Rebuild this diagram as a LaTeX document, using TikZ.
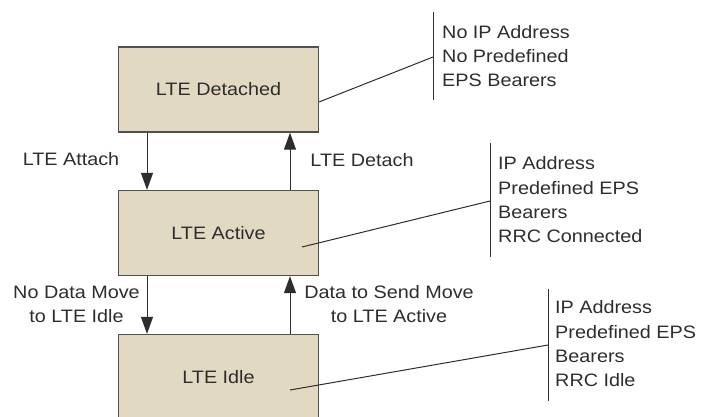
\documentclass[tikz,border=0pt]{standalone}
\usepackage{fontspec}
\setmainfont{Liberation Sans}[FakeStretch=1.1]
\usetikzlibrary{arrows.meta}
\definecolor{statefill}{RGB}{226,217,195}
\definecolor{ink}{RGB}{45,45,45}
\definecolor{edge}{RGB}{80,80,80}
\tikzset{
  state/.style={draw=edge, line width=1.3pt, fill=statefill, minimum width=200pt,
    minimum height=85pt, inner sep=0pt, text=ink, font=\fontsize{18}{24}\selectfont},
  trans/.style={draw=ink, line width=1pt, -{Triangle[length=17pt,width=12pt]}},
  lbl/.style={text=ink, font=\fontsize{18}{24}\selectfont, align=center, inner sep=0pt},
  notetext/.style={text=ink, font=\fontsize{18}{24.3}\selectfont, align=left,
    anchor=west, inner sep=0pt},
  bracket/.style={draw=ink, line width=1pt},
  leader/.style={draw=ink, line width=1pt}
}
\begin{document}
\begin{tikzpicture}[x=1pt,y=-1pt]
\useasboundingbox (0,0) rectangle (707,416);
\clip (0,0) rectangle (707,416);

% states
\node[state] (detached) at (218.5,89.5) {LTE Detached};
\node[state] (active) at (218.5,233) {LTE Active};
\node[state] (idle) at (218.5,377) {LTE Idle};

% transitions
\draw[trans] (detached.south -| 147,0) -- (active.north -| 147,0);
\draw[trans] (active.north -| 290,0) -- (detached.south -| 290,0);
\draw[trans] (active.south -| 147,0) -- (idle.north -| 147,0);
\draw[trans] (idle.north -| 290,0) -- (active.south -| 290,0);

\node[lbl] (attachlbl) at (71,159) {LTE Attach};
\node[lbl] (detachlbl) at (362,160) {LTE Detach};
\node[lbl] (idlelbl) at (76.5,304) {No Data Move\\to LTE Idle};
\node[lbl] (activelbl) at (389,304) {Data to Send Move\\to LTE Active};

% annotations
\coordinate (n1) at (433,57);
\draw[bracket] (433,12) -- (433,100);
\node[notetext] (note1) at (442,56) {No IP Address\\No Predefined\\EPS Bearers};
\coordinate (s1) at (319,102);
\draw[leader] (s1) -- (n1);

\coordinate (n2) at (490,201);
\draw[bracket] (490,143) -- (490,257);
\node[notetext] (note2) at (498,200) {IP Address\\Predefined EPS\\Bearers\\RRC Connected};
\coordinate (s2) at (302,247);
\draw[leader] (s2) -- (n2);

\coordinate (n3) at (548,345);
\draw[bracket] (548,289) -- (548,401);
\node[notetext] (note3) at (555,344) {IP Address\\Predefined EPS\\Bearers\\RRC Idle};
\coordinate (s3) at (290,390);
\draw[leader] (s3) -- (n3);
\end{tikzpicture}
\end{document}
